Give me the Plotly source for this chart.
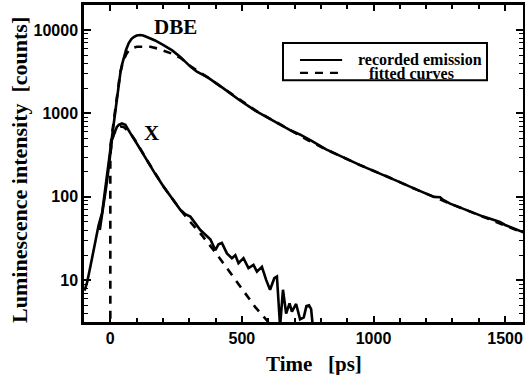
import math
import plotly.graph_objects as go

# ---------------- data ----------------
dbe_t = [-98, -88, -75, -57, -45, -31, -20, -13, -5, 0, 6, 13, 19, 25, 32, 38, 45, 51, 60, 70,
         80, 89, 100, 114, 125, 139, 170, 202, 235, 266, 304, 329, 370, 430, 490, 557, 620, 683,
         720, 750, 765, 820, 880, 949, 1000, 1038, 1100, 1164, 1230, 1253, 1265, 1291, 1350,
         1417, 1464, 1480, 1500, 1576]
dbe_v = [7.5, 9.5, 15, 30, 45, 65, 120, 195, 280, 363, 550, 830, 1150, 1580, 2300, 3030, 3900,
         4600, 5800, 6970, 7800, 8250, 8600, 8700, 8600, 8250, 7500, 6600, 5700, 4760, 3640, 3160,
         2700, 2000, 1450, 1050, 820, 630, 560, 500, 470, 370, 300, 240, 205, 183, 150, 122, 100,
         99, 92, 83, 70, 58, 52, 50, 46, 37]

dbe_fit_t = [0, 13, 25, 38, 48, 60, 70, 85, 101, 125, 152, 180, 202, 235, 266, 304, 370, 430,
             490, 557, 620, 683, 750, 820, 880, 949, 1038, 1164, 1291, 1417, 1570]
dbe_fit_v = [400, 850, 1650, 3150, 4150, 5100, 5700, 6100, 6300, 6350, 6300, 6000, 5650, 5200,
             4650, 3700, 2700, 2000, 1450, 1060, 820, 630, 480, 370, 300, 240, 183, 122, 83, 58, 37]

x_t = [-40, -25, -13, -5, 0, 6, 13, 19, 25, 32, 44, 57, 66, 76, 100, 120, 139, 170, 202, 235,
       266, 285, 304, 342, 361, 380, 399, 411, 424, 443, 462, 475, 487, 506, 525, 544, 557, 576,
       592, 607, 623, 633, 645, 656, 668, 681, 690, 706, 721, 735, 745, 755, 763, 771]
x_v = [40, 80, 150, 240, 320, 480, 560, 630, 690, 730, 760, 730, 650, 580, 440, 345, 277, 190,
       133, 96, 70, 62, 58, 40, 35, 31, 23, 27, 28, 21, 18.4, 20, 16, 18.4, 14, 15.3, 12.7, 14.5,
       10.1, 7.7, 10.6, 11.1, 2.8, 7.7, 4.0, 5.3, 4.2, 5.2, 3.4, 3.6, 4.9, 5.0, 4.5, 2.5]

x_fit_t = [0, 0, 6, 13, 25, 38, 50, 76, 100, 139, 202, 266, 304, 350, 400, 430, 500, 550, 595, 620]
x_fit_v = [1, 320, 470, 560, 660, 700, 690, 580, 450, 277, 133, 70, 50, 34, 21.5, 16, 8, 4.8, 3.3, 2.5]

x_ticks = [0, 500, 1000, 1500]
y_ticks = [10, 100, 1000, 10000]
y_tick_text = ["10", "100", "1000", "10000"]

labels = ["DBE", "X"]
label_t = [247, 155]
label_v = [10875, 580]

legend_names = ["recorded emission", "fitted curves"]

# ---------------- figure ----------------
SERIF = "Liberation Serif, Times New Roman, serif"
SANS = "Liberation Sans, Arial, sans-serif"
LW = 2.6

fig = go.Figure()
fig.add_trace(go.Scatter(x=dbe_t, y=dbe_v, mode="lines", line=dict(color="black", width=LW)))
fig.add_trace(go.Scatter(x=x_t, y=x_v, mode="lines", line=dict(color="black", width=LW)))
fig.add_trace(go.Scatter(x=dbe_fit_t, y=dbe_fit_v, mode="lines",
                         line=dict(color="black", width=LW, dash="8px,7px")))
fig.add_trace(go.Scatter(x=x_fit_t, y=x_fit_v, mode="lines",
                         line=dict(color="black", width=LW, dash="8px,7px")))

for name, t, v in zip(labels, label_t, label_v):
    fig.add_annotation(x=t, y=math.log10(v), text="<b>%s</b>" % name,
                       xanchor="center", yanchor="middle",
                       showarrow=False, font=dict(family=SERIF, size=21, color="black"))

# custom legend box
bx0, bx1, by0, by1 = 0.4533, 0.918, 0.763, 0.880
fig.add_shape(type="rect", xref="paper", yref="paper", x0=bx0, x1=bx1, y0=by0, y1=by1,
              line=dict(color="black", width=2), fillcolor="white", layer="above")
fig.add_shape(type="line", xref="paper", yref="paper", x0=0.492, x1=0.588, y0=0.8265, y1=0.8265,
              line=dict(color="black", width=2.2))
fig.add_shape(type="line", xref="paper", yref="paper", x0=0.492, x1=0.585, y0=0.786, y1=0.786,
              line=dict(color="black", width=2.2, dash="8px,7px"))
fig.add_annotation(xref="paper", yref="paper", x=0.622, y=0.8285, xanchor="left", yanchor="middle",
                   text="<b>%s</b>" % legend_names[0], showarrow=False, borderpad=0,
                   font=dict(family=SERIF, size=16, color="black"))
fig.add_annotation(xref="paper", yref="paper", x=0.647, y=0.785, xanchor="left", yanchor="middle",
                   text="<b>%s</b>" % legend_names[1], showarrow=False, borderpad=0,
                   font=dict(family=SERIF, size=16, color="black"))

# axis titles
fig.add_annotation(xref="paper", yref="paper", x=0.524, y=-0.1325, xanchor="center", yanchor="middle",
                   text="<b>Time\u00a0\u00a0\u00a0[ps]</b>", showarrow=False,
                   font=dict(family=SERIF, size=21, color="black"))
fig.add_annotation(xref="paper", yref="paper", x=-0.146, y=0.4795, textangle=-90,
                   xanchor="center", yanchor="middle",
                   text="<b>Luminescence intensity\u00a0\u00a0[counts]</b>", showarrow=False,
                   font=dict(family=SERIF, size=22, color="black"))

fig.update_layout(
    width=525, height=375,
    margin=dict(l=84, r=2, t=5, b=53, autoexpand=False),
    paper_bgcolor="white", plot_bgcolor="white",
    showlegend=False,
    xaxis=dict(range=[-100, 1568], tickvals=x_ticks, ticks="inside", ticklen=6, tickwidth=1.5,
               tickcolor="black", showline=True, linecolor="black", linewidth=2.5,
               mirror="ticks", showgrid=False, zeroline=False,
               minor=dict(dtick=100, tick0=0, ticks="inside", ticklen=4, tickwidth=1.5,
                          tickcolor="black", showgrid=False),
               tickfont=dict(family=SANS, size=16, color="black", weight="bold")),
    yaxis=dict(type="log", range=[0.5, 4.3], tickvals=y_ticks, ticktext=y_tick_text,
               ticks="inside", ticklen=7, tickwidth=1.5, tickcolor="black",
               showline=True, linecolor="black", linewidth=2.5, mirror="ticks",
               showgrid=False, zeroline=False,
               minor=dict(dtick="D1", ticks="inside", ticklen=4, tickwidth=1.2,
                          tickcolor="black", showgrid=False),
               tickfont=dict(family=SANS, size=16, color="black", weight="bold")),
)

fig.write_html("out.html", config={"displayModeBar": False},
               post_script="document.body.style.margin='0';")
